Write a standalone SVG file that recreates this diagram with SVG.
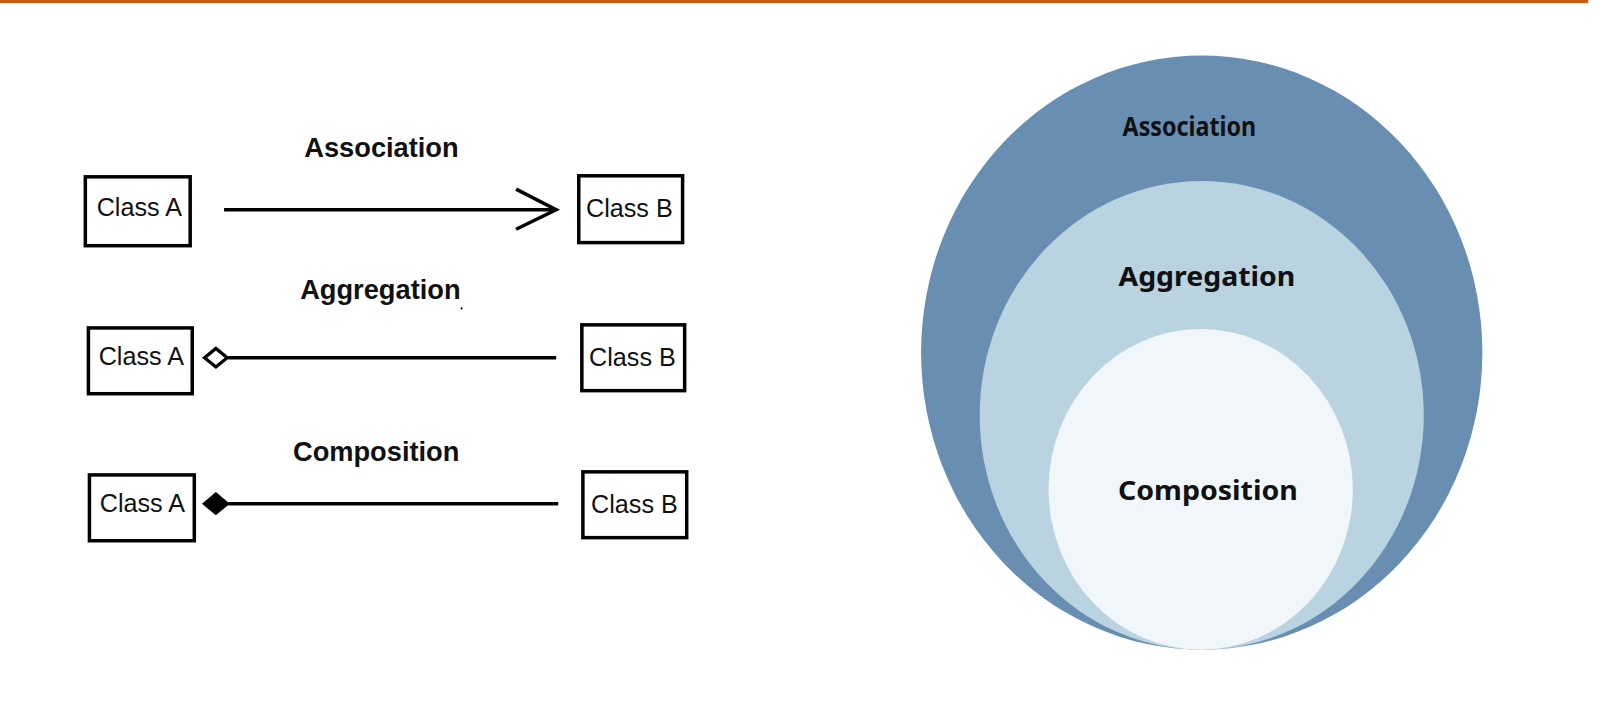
<svg xmlns="http://www.w3.org/2000/svg" width="1612" height="708" viewBox="0 0 1612 708">
<style>
.box{fill:#fff;stroke:#000;stroke-width:3.4}
.cls{font-family:"Liberation Sans",Arial,sans-serif;font-size:24.5px;fill:#111}
.lbl{font-family:"Liberation Sans",Arial,sans-serif;font-size:26.5px;font-weight:bold;fill:#111}
.ln{stroke:#000;stroke-width:3.4;fill:none}
.vl{font-family:"Noto Sans","Open Sans",sans-serif;font-size:26px;font-weight:700;fill:#111;text-anchor:middle}
</style>
<rect width="1612" height="708" fill="#fff"/>
<g transform="scale(1.028)">
<rect x="0" y="0" width="1545" height="3" fill="#c55a11"/>

<g id="labels-left">
<text class="lbl" x="296" y="153">Association</text>
<text class="lbl" x="292" y="291">Aggregation</text>
<text class="lbl" x="285" y="448">Composition</text>
<circle cx="449" cy="300" r="1" fill="#000"/>
</g>

<g id="assoc-a"><rect class="box" x="83" y="172" width="102" height="67"/><text class="cls" x="94" y="210">Class A</text></g>
<g id="assoc-b"><rect class="box" x="563" y="171" width="101" height="65"/><text class="cls" x="570" y="211">Class B</text></g>
<g id="aggr-a"><rect class="box" x="86" y="319" width="101" height="64"/><text class="cls" x="96" y="355">Class A</text></g>
<g id="aggr-b"><rect class="box" x="566" y="316" width="100" height="64"/><text class="cls" x="573" y="356">Class B</text></g>
<g id="comp-a"><rect class="box" x="87" y="462" width="102" height="64"/><text class="cls" x="97" y="498">Class A</text></g>
<g id="comp-b"><rect class="box" x="567" y="459" width="101" height="64"/><text class="cls" x="575" y="499">Class B</text></g>

<g id="connectors">
<line class="ln" x1="218" y1="204" x2="540" y2="204"/>
<polyline class="ln" points="502,184 541,204 502,223"/>
<line class="ln" x1="222" y1="348" x2="541" y2="348"/>
<polygon points="199,348 210,339 221,348 210,357" fill="#fff" stroke="#000" stroke-width="3.2"/>
<line class="ln" x1="222" y1="490" x2="543" y2="490"/>
<polygon points="198,490 210,480 222,490 210,500" fill="#000" stroke="#000" stroke-width="2"/>
</g>

<g id="association">
<ellipse cx="1169" cy="343" rx="273" ry="289" fill="#688fb2"/>
<text class="vl" x="1157" y="132" textLength="130" lengthAdjust="spacingAndGlyphs">Association</text>
</g>
<g id="aggregation">
<ellipse cx="1169" cy="404" rx="216" ry="228" fill="#b9d3e1"/>
<text class="vl" x="1174" y="278" textLength="172" lengthAdjust="spacingAndGlyphs">Aggregation</text>
</g>
<g id="composition">
<ellipse cx="1168" cy="476" rx="148" ry="156" fill="#f0f6f9"/>
<text class="vl" x="1175" y="486" textLength="175" lengthAdjust="spacingAndGlyphs">Composition</text>
</g>
</g>
</svg>
